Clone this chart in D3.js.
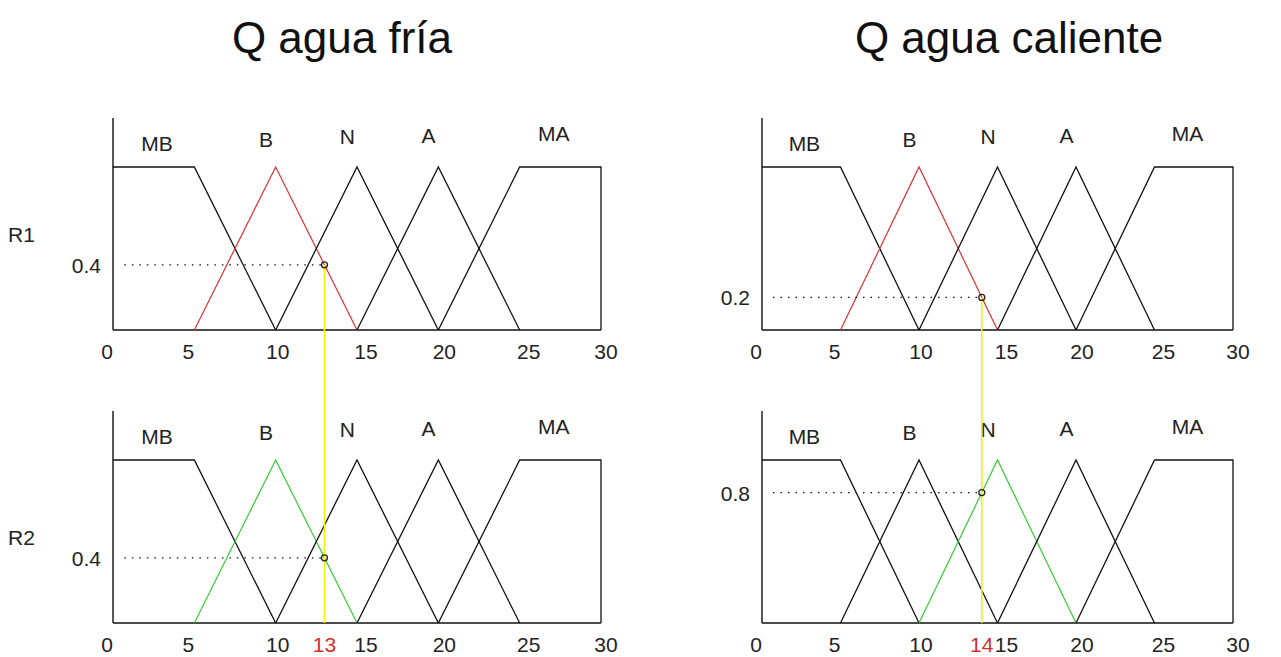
<!DOCTYPE html>
<html>
<head>
<meta charset="utf-8">
<script src="https://cdn.jsdelivr.net/npm/d3@7"></script>
<style>
  html, body { margin: 0; padding: 0; background: #fff; }
  svg { display: block; font-family: "Liberation Sans", Arial, sans-serif; }
</style>
</head>
<body>
<svg id="chart" width="1281" height="657"></svg>
<script>
// Fuzzy sets shared by both inputs (universe 0..30)
const termNames = ["MB", "B", "N", "A", "MA"];
const mbPoints = [[0, 1], [5, 1], [10, 0]];
const bPoints  = [[5, 0], [10, 1], [15, 0]];
const nPoints  = [[10, 0], [15, 1], [20, 0]];
const aPoints  = [[15, 0], [20, 1], [25, 0]];
const maPoints = [[20, 0], [25, 1], [30, 1], [30, 0]];
const termPoints = [mbPoints, bPoints, nPoints, aPoints, maPoints];

// Term label anchors (x, membership height of the text baseline)
const labelX = [2.7, 9.4, 14.4, 19.4, 27.1];
const labelY = [1.10, 1.12, 1.14, 1.15, 1.16];

const xTicks = [0, 5, 10, 15, 20, 25, 30];

// Inputs and firing degrees
const titles = ["Q agua fría", "Q agua caliente"];
const inputValues = [13, 14];
const ruleNames = ["R1", "R2"];
const activeTermR1 = ["B", "B"];
const activeTermR2 = ["B", "N"];
const degreeR1 = [0.4, 0.2];
const degreeR2 = [0.4, 0.8];

const svg = d3.select("#chart");

// layout
const colLeft = [113, 762];
const colRight = [601, 1233];
const rowBase = [330, 623];
const unitHeight = 163;
const titleX = [342, 1009];
const ruleLabelY = [242, 545];
const tickNudge = [-6, -6, 2, 9, 6, 9, 5];

const lineColor = "#111";
const ruleColors = ["#e03030", "#33cc33"];
const yellow = "#f2f200";

function panel(col, row) {
  const x = d3.scaleLinear().domain([0, 30]).range([colLeft[col], colRight[col]]);
  const y = d3.scaleLinear().domain([0, 1]).range([rowBase[row], rowBase[row] - unitHeight]);
  return { x, y };
}

const line = (sc) => d3.line().x(d => sc.x(d[0])).y(d => sc.y(d[1]));

// Titles
titles.forEach((t, i) => {
  svg.append("text").attr("x", titleX[i]).attr("y", 53)
    .attr("text-anchor", "middle").attr("font-size", 44).attr("fill", "#111")
    .text(t);
});

for (let col = 0; col < 2; col++) {
  const activeTerms = [activeTermR1[col], activeTermR2[col]];
  const degrees = [degreeR1[col], degreeR2[col]];
  for (let row = 0; row < 2; row++) {
    const sc = panel(col, row);
    const g = svg.append("g");

    // axes: vertical axis line and baseline
    g.append("line").attr("x1", sc.x(0)).attr("x2", sc.x(0))
      .attr("y1", sc.y(0)).attr("y2", sc.y(1.3))
      .attr("stroke", lineColor).attr("stroke-width", 1.4);
    g.append("line").attr("x1", sc.x(0)).attr("x2", sc.x(30))
      .attr("y1", sc.y(0)).attr("y2", sc.y(0))
      .attr("stroke", lineColor).attr("stroke-width", 1.4);

    // membership functions
    termPoints.forEach((pts, k) => {
      const active = termNames[k] === activeTerms[row];
      g.append("path").attr("d", line(sc)(pts))
        .attr("fill", "none")
        .attr("stroke", active ? ruleColors[row] : lineColor)
        .attr("stroke-width", active ? 1.2 : 1.3);
    });

    // term labels
    termNames.forEach((name, k) => {
      g.append("text").attr("x", sc.x(labelX[k])).attr("y", sc.y(labelY[k]))
        .attr("text-anchor", "middle").attr("font-size", 21).attr("fill", "#222")
        .text(name);
    });

    // tick labels
    xTicks.forEach((t, i) => {
      g.append("text").attr("x", sc.x(t) + tickNudge[i]).attr("y", sc.y(0) + 29)
        .attr("text-anchor", "middle").attr("font-size", 21).attr("fill", "#222")
        .text(t);
    });

    // dotted guide to the firing degree
    const v = inputValues[col];
    const d = degrees[row];
    g.append("line").attr("x1", sc.x(0.7)).attr("x2", sc.x(v))
      .attr("y1", sc.y(d)).attr("y2", sc.y(d))
      .attr("stroke", lineColor).attr("stroke-width", 1.3)
      .attr("stroke-dasharray", "1.5 6");
    g.append("text").attr("x", sc.x(0) - 12).attr("y", sc.y(d) + 8)
      .attr("text-anchor", "end").attr("font-size", 21).attr("fill", "#222")
      .text(d);

    if (col === 0) {
      g.append("text").attr("x", 8).attr("y", ruleLabelY[row])
        .attr("font-size", 21).attr("fill", "#222")
        .text(ruleNames[row]);
    }
  }

  // vertical input line crossing both rules
  const top = panel(col, 0), bot = panel(col, 1);
  const v = inputValues[col];
  svg.append("line").attr("x1", top.x(v)).attr("x2", top.x(v))
    .attr("y1", top.y(degreeR1[col])).attr("y2", bot.y(0))
    .attr("stroke", yellow).attr("stroke-width", 1.6);

  // markers at the membership degree
  [[top, degreeR1[col]], [bot, degreeR2[col]]].forEach(([sc, d]) => {
    svg.append("circle").attr("cx", sc.x(v)).attr("cy", sc.y(d)).attr("r", 3)
      .attr("fill", "none").attr("stroke", "#222").attr("stroke-width", 1.3);
  });

  // input value on the bottom axis
  svg.append("text").attr("x", bot.x(v)).attr("y", bot.y(0) + 29)
    .attr("text-anchor", "middle").attr("font-size", 21).attr("fill", "#d03030")
    .text(v);
}
</script>
</body>
</html>
